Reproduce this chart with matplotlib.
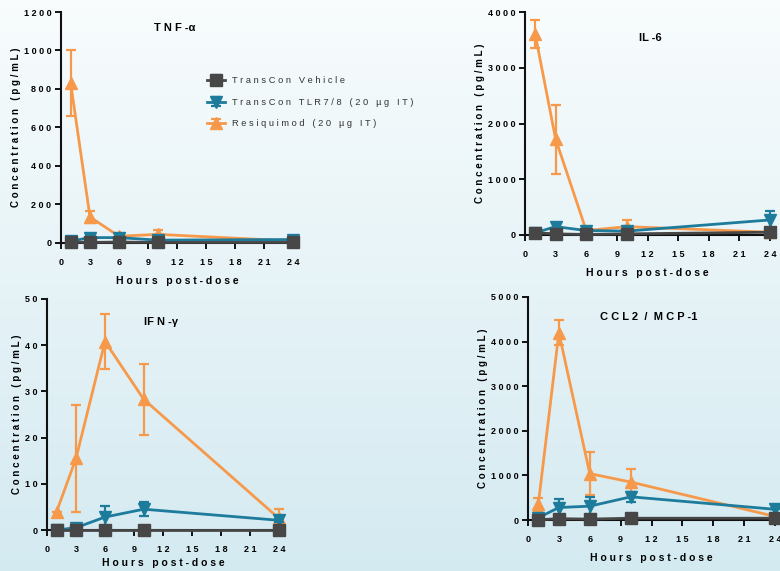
import matplotlib.pyplot as plt
import numpy as np

plt.rcParams['font.family'] = ['Liberation Sans', 'DejaVu Sans']

hours = [1, 3, 6, 10, 24]
xticks = [0, 3, 6, 9, 12, 15, 18, 21, 24]
series_names = ['TransCon Vehicle', 'TransCon TLR7/8 (20 µg IT)', 'Resiquimod (20 µg IT)']

# TNF-alpha
tnf_vehicle = [5, 3, 5, 3, 3]
tnf_vehicle_err = [0, 0, 0, 0, 0]
tnf_tlr = [10, 28, 28, 15, 18]
tnf_tlr_err = [0, 8, 5, 0, 10]
tnf_resi = [830, 135, 35, 45, 10]
tnf_resi_err = [170, 30, 0, 20, 0]

# IL-6
il6_vehicle = [40, 20, 10, 20, 50]
il6_vehicle_err = [0, 0, 0, 0, 0]
il6_tlr = [40, 150, 80, 70, 270]
il6_tlr_err = [0, 60, 20, 20, 160]
il6_resi = [3600, 1720, 80, 150, 50]
il6_resi_err = [250, 620, 0, 120, 0]

# IFN-gamma
ifn_vehicle = [0, 0, 0, 0, 0]
ifn_vehicle_err = [0, 0, 0, 0, 0]
ifn_tlr = [0, 0.5, 2.8, 4.5, 2.1]
ifn_tlr_err = [0, 0.3, 2.3, 1.5, 0.3]
ifn_resi = [4, 15.5, 40.8, 28.3, 2.5]
ifn_resi_err = [0, 11.5, 6, 7.7, 2]

# CCL2 / MCP-1
ccl_vehicle = [5, 30, 20, 40, 40]
ccl_vehicle_err = [0, 0, 0, 0, 0]
ccl_tlr = [50, 280, 310, 520, 240]
ccl_tlr_err = [0, 190, 200, 110, 0]
ccl_resi = [350, 4200, 1040, 850, 80]
ccl_resi_err = [150, 280, 490, 300, 0]

colors = ['#474747', '#1d7b9c', '#f7994b']
markers = ['s', 'v', '^']


def sp(s):
    return ' '.join(s)


W, H = 780, 571
fig = plt.figure(figsize=(W / 100, H / 100), dpi=100)

# background gradient
bg = fig.add_axes([0, 0, 1, 1], zorder=-10)
top = np.array([248, 252, 253]) / 255
bot = np.array([212, 234, 241]) / 255
t = np.linspace(0, 1, 256)[:, None]
grad = top * (1 - t) + bot * t
bg.imshow(grad[:, None, :].repeat(2, axis=1), aspect='auto', extent=[0, 1, 0, 1])
bg.axis('off')


def box(l, r, top_px, bot_px):
    return [l / W, 1 - bot_px / H, (r - l) / W, (bot_px - top_px) / H]


panels = [
    dict(rect=box(61, 293, 12, 243), ymax=1200, ystep=200, title='T N F -α', tpos=(0.49, 0.93), xlpad=6,
         data=[(tnf_vehicle, tnf_vehicle_err), (tnf_tlr, tnf_tlr_err), (tnf_resi, tnf_resi_err)]),
    dict(rect=box(525, 770, 12, 235), ymax=4000, ystep=1000, title='IL -6', tpos=(0.51, 0.885), xlpad=6,
         data=[(il6_vehicle, il6_vehicle_err), (il6_tlr, il6_tlr_err), (il6_resi, il6_resi_err)]),
    dict(rect=box(47, 279, 299, 530), ymax=50, ystep=10, title='IF N -γ', tpos=(0.49, 0.90), xlpad=3,
         data=[(ifn_vehicle, ifn_vehicle_err), (ifn_tlr, ifn_tlr_err), (ifn_resi, ifn_resi_err)]),
    dict(rect=box(528, 775, 297, 520), ymax=5000, ystep=1000, title='C C L 2  /  M C P -1', tpos=(0.49, 0.91), xlpad=6,
         data=[(ccl_vehicle, ccl_vehicle_err), (ccl_tlr, ccl_tlr_err), (ccl_resi, ccl_resi_err)]),
]

axes = []
for p in panels:
    ax = fig.add_axes(p['rect'])
    ax.set_facecolor('none')
    zorders = [5, 4, 3]
    for i, (vals, err) in enumerate(p['data']):
        ax.errorbar(hours, vals, yerr=err, color=colors[i], marker=markers[i], markersize=8,
                    lw=2, elinewidth=1.6, capsize=3.5, capthick=1.6, clip_on=False,
                    zorder=zorders[i], label=series_names[i])
    ax.set_xlim(0, 24)
    ax.set_ylim(0, p['ymax'])
    yt = np.arange(0, p['ymax'] + 1, p['ystep'])
    ax.set_yticks(yt)
    ax.set_yticklabels([sp(str(int(v))) for v in yt])
    ax.set_xticks(xticks)
    ax.set_xticklabels([sp(str(v)) for v in xticks])
    for s in ['top', 'right']:
        ax.spines[s].set_visible(False)
    for s in ['left', 'bottom']:
        ax.spines[s].set_linewidth(1.5)
        ax.spines[s].set_color('#111111')
    ax.tick_params(axis='y', length=4, width=1.3, pad=3, labelsize=6.5)
    ax.tick_params(axis='x', length=4, width=1.3, pad=7, labelsize=6.5)
    for lab in ax.get_xticklabels() + ax.get_yticklabels():
        lab.set_fontweight('bold')
    ax.set_xlabel(sp('Hours post-dose'), fontsize=7.5, fontweight='bold', labelpad=p['xlpad'])
    ax.set_ylabel(sp('Concentration (pg/mL)'), fontsize=7, fontweight='bold', labelpad=2)
    ax.text(p['tpos'][0], p['tpos'][1], p['title'], transform=ax.transAxes, ha='center',
            va='center', fontsize=8, fontweight='bold')
    axes.append(ax)

handles, labels = axes[0].get_legend_handles_labels()
leg = fig.legend(handles, [sp(n) for n in series_names], loc='upper left',
                 bbox_to_anchor=(199 / W, 1 - 68 / H), frameon=False, fontsize=6.7,
                 handlelength=1.9, handletextpad=0.8, labelspacing=1.35)
for txt in leg.get_texts():
    txt.set_color('#333333')

fig.savefig('out.png', dpi=100)
